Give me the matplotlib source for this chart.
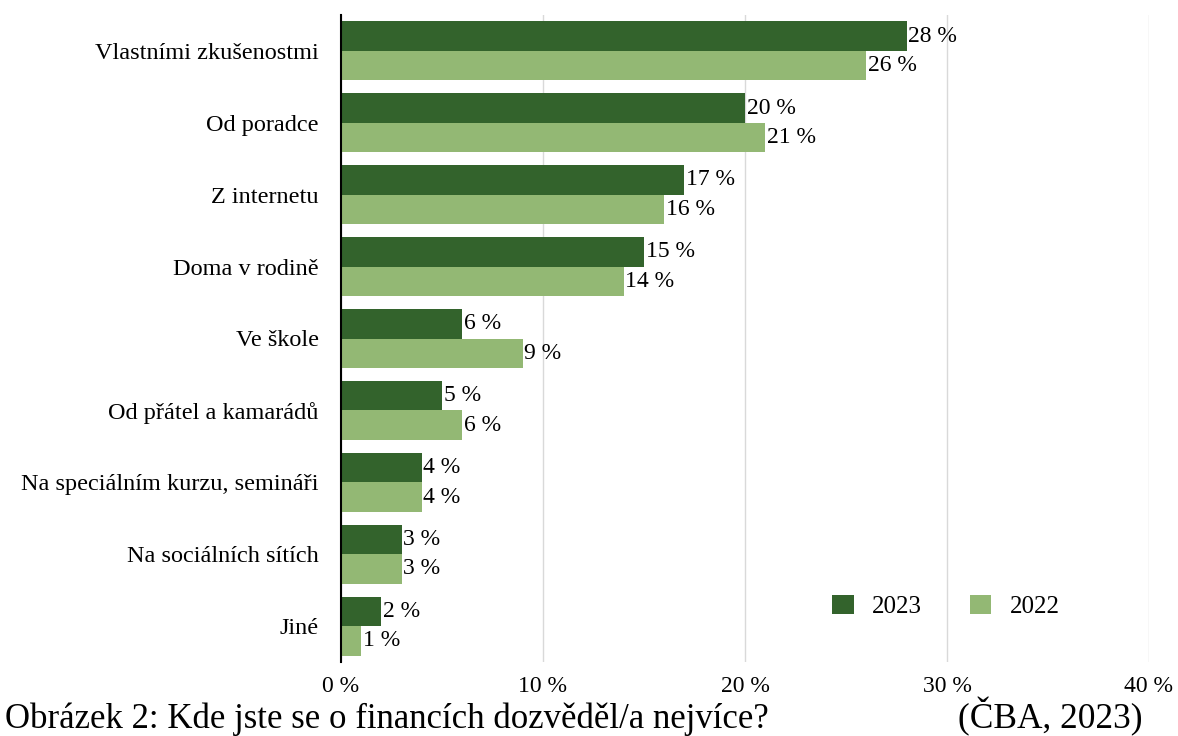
import numpy as np
import matplotlib.pyplot as plt

categories = ["Vlastními zkušenostmi", "Od poradce", "Z internetu", "Doma v rodině",
              "Ve škole", "Od přátel a kamarádů", "Na speciálním kurzu, semináři",
              "Na sociálních sítích", "Jiné"]
vals_2023 = [28, 20, 17, 15, 6, 5, 4, 3, 2]
vals_2022 = [26, 21, 16, 14, 9, 6, 4, 3, 1]

dark = "#33632c"
light = "#93b874"

plt.rcParams['font.family'] = ['Liberation Serif', 'DejaVu Serif']

fig = plt.figure(figsize=(11.78, 7.36), dpi=100)
ax = fig.add_axes([341 / 1178, 74 / 736, 808 / 1178, 647 / 736])

y = np.arange(len(categories))
h = 0.41
b1 = ax.barh(y - h / 2, vals_2023, height=h, color=dark, label="2023", zorder=2)
b2 = ax.barh(y + h / 2, vals_2022, height=h, color=light, label="2022", zorder=2)

for bars, vals in ((b1, vals_2023), (b2, vals_2022)):
    for bar, v in zip(bars, vals):
        ax.text(v + 0.08, bar.get_y() + bar.get_height() / 2, f"{v} %",
                va="center", ha="left", fontsize=17)

ax.set_xlim(0, 40)
ax.set_ylim(len(categories) - 0.5, -0.5)
ax.set_yticks(y)
ax.set_yticklabels(categories, fontsize=17.5)
ax.set_xticks([0, 10, 20, 30, 40])
ax.set_xticklabels([f"{t} %" for t in [0, 10, 20, 30, 40]], fontsize=17)
ax.tick_params(axis="both", length=0)
ax.tick_params(axis="y", pad=16)
ax.tick_params(axis="x", pad=10)
ax.grid(axis="x", color="#d9d9d9", linewidth=1, zorder=0)
for s in ["top", "right", "bottom"]:
    ax.spines[s].set_visible(False)
ax.spines["left"].set_linewidth(1.5)
ax.spines["left"].set_zorder(3)

ax.legend(loc="center left", bbox_to_anchor=(0.608, 0.086), ncol=2, frameon=False,
          fontsize=18, handlelength=0.85, handleheight=0.85, columnspacing=1.9,
          handletextpad=0.75, borderpad=0, borderaxespad=0)

# caption line under the chart, both parts on one baseline
base = 1 - 728 / 736
fig.text(5 / 1178, base, "Obrázek 2: Kde jste se o financích dozvěděl/a nejvíce?",
         fontsize=25, va="baseline", ha="left")
fig.text(1142 / 1178, base, "(ČBA, 2023)", fontsize=25.5, va="baseline", ha="right")

fig.savefig("out.png", dpi=100)
